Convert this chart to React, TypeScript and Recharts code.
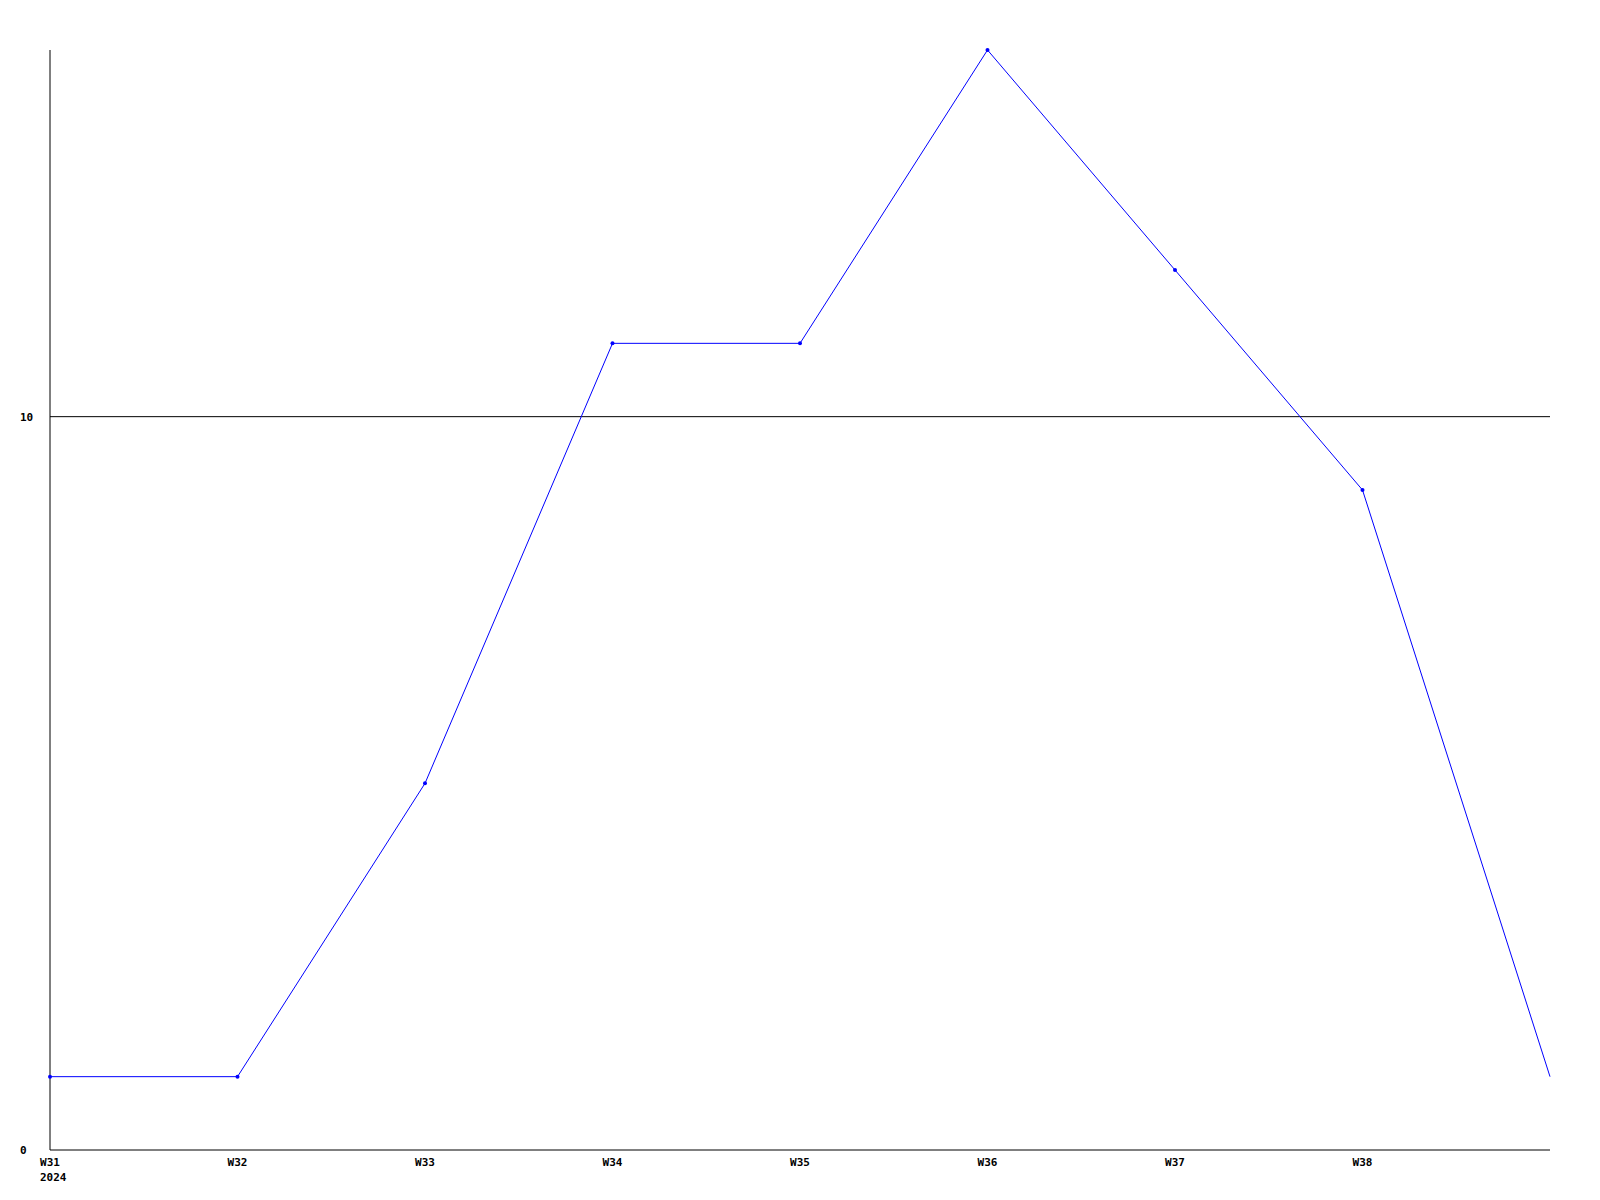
import { LineChart, Line, XAxis, YAxis, ReferenceLine } from "recharts";

const weeks = ["W31", "W32", "W33", "W34", "W35", "W36", "W37", "W38", ""];
const counts = [1, 1, 5, 11, 11, 15, 12, 9, 1];
const yTicks = [0, 10];

const data = weeks.map((w, i) => ({ week: w, value: counts[i] }));

const font = "'DejaVu Sans Mono', monospace";

function WeekTick(props: any) {
  const { x, y, payload, index } = props;
  if (!payload.value) return <g />;
  return (
    <g>
      <text x={x} y={y + 16} textAnchor="middle" fontFamily={font} fontWeight="bold" fontSize={11} fill="#000">
        {payload.value}
      </text>
      {index === 0 && (
        <text x={x - 10} y={y + 31} textAnchor="start" fontFamily={font} fontWeight="bold" fontSize={11} fill="#000">
          2024
        </text>
      )}
    </g>
  );
}

function CountTick(props: any) {
  const { y, payload } = props;
  return (
    <text x={20} y={y + 4} textAnchor="start" fontFamily={font} fontWeight="bold" fontSize={11} fill="#000">
      {payload.value}
    </text>
  );
}

function Marker(props: any) {
  const { cx, cy, index } = props;
  if (index === counts.length - 1) return <g key={index} />;
  return <circle key={index} cx={cx} cy={cy} r={2} fill="#0000ff" stroke="none" />;
}

export default function App() {
  return (
    <div style={{ position: "absolute", left: 0, top: 0, background: "#fff" }}>
      <LineChart width={1600} height={1200} data={data} margin={{ top: 50, right: 50, bottom: 0, left: 0 }}>
        <XAxis
          dataKey="week"
          height={50}
          stroke="#000"
          tickLine={false}
          tickSize={0}
          tickMargin={0}
          interval={0}
          tick={<WeekTick />}
        />
        <YAxis
          width={50}
          domain={[0, 15]}
          ticks={yTicks}
          stroke="#000"
          tickLine={false}
          tick={<CountTick />}
        />
        <ReferenceLine y={10} stroke="#000" strokeWidth={1} />
        <Line
          type="linear"
          dataKey="value"
          stroke="#0000ff"
          strokeWidth={1}
          dot={Marker}
          activeDot={false}
          isAnimationActive={false}
        />
      </LineChart>
    </div>
  );
}
